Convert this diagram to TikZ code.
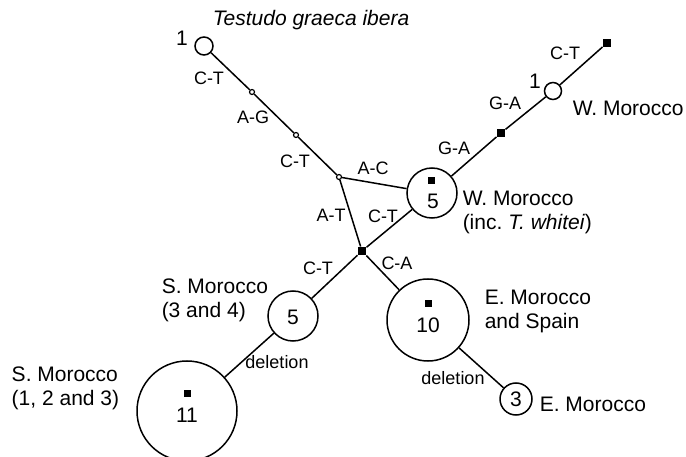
\documentclass[tikz,border=0pt]{standalone}
\usepackage{fontspec}
\setmainfont{Liberation Sans}
\begin{document}
\begin{tikzpicture}[x=1pt,y=-1pt,line width=1.5pt,
  hap/.style={circle,draw,line width=1.5pt,inner sep=0pt},
  tiny/.style={circle,draw,line width=1.2pt,inner sep=0pt,minimum size=5pt,fill=white},
  sq/.style={rectangle,fill=black,inner sep=0pt,minimum size=7.5pt},
  mut/.style={font=\fontsize{18}{20}\selectfont,inner sep=0pt},
  lab/.style={font=\fontsize{21}{24}\selectfont,inner sep=0pt,align=left,anchor=west},
  num/.style={font=\fontsize{21}{24}\selectfont,inner sep=0pt}]
\useasboundingbox (0,0) rectangle (686,457);
% haplotype circles
\node[hap,minimum size=18pt] (c1a) at (204,46) {};
\node[tiny] (s1) at (252,92) {};
\node[tiny] (s2) at (296,135) {};
\node[tiny] (j1) at (339,177) {};
\node[hap,minimum size=50pt] (c5w) at (432,193) {};
\node[sq] (j2) at (362,251) {};
\node[sq] (sq1) at (501,133) {};
\node[hap,minimum size=17pt] (c1b) at (553,91) {};
\node[sq] (sq2) at (607,43) {};
\node[hap,minimum size=50pt] (c5s) at (293,316) {};
\node[hap,minimum size=100pt] (c11) at (187,411) {};
\node[hap,minimum size=82pt] (c10) at (428,320) {};
\node[hap,minimum size=32pt] (c3) at (516,399) {};
% inner squares and numbers
\node[sq,minimum size=7pt] (q5w) at (431,181) {};
\node[num] (n5w) at (433,201) {5};
\node[num] (n5s) at (293,317) {5};
\node[sq,minimum size=7pt] (q10) at (428,304) {};
\node[num] (n10) at (428,325) {10};
\node[sq,minimum size=7pt] (q11) at (187,393) {};
\node[num] (n11) at (187,415) {11};
\node[num] (n3) at (516,399) {3};
\node[num] (n1a) at (182,38) {1};
\node[num] (n1b) at (535,81) {1};
% connectors
\draw (c1a) -- (s1) -- (s2) -- (j1);
\draw (j1) -- (c5w);
\draw (j1) -- (j2);
\draw (j2) -- (c5w);
\draw (c5w) -- (sq1) -- (c1b) -- (sq2);
\draw (j2) -- (c5s);
\draw (j2) -- (c10);
\draw (c5s) -- (c11);
\draw (c10) -- (c3);
% mutation labels
\node[mut] (m1) at (209,78) {C-T};
\node[mut] (m2) at (253,117) {A-G};
\node[mut] (m3) at (295,161) {C-T};
\node[mut] (m4) at (373,168) {A-C};
\node[mut] (m5) at (331,215) {A-T};
\node[mut] (m6) at (383,216) {C-T};
\node[mut] (m7) at (454,148) {G-A};
\node[mut] (m8) at (505,103) {G-A};
\node[mut] (m9) at (565,53) {C-T};
\node[mut] (m10) at (318,268) {C-T};
\node[mut] (m11) at (397,263) {C-A};
\node[mut] (m12) at (277,362) {deletion};
\node[mut] (m13) at (453,378) {deletion};
% group labels
\node[lab,font=\fontsize{21}{24}\selectfont\itshape] (t0) at (212,20) {Testudo graeca ibera};
\node[lab] (t1) at (572,108) {W. Morocco};
\node[lab] (t2) at (462,212) {W. Morocco\\(inc.~\textit{T. whitei})};
\node[lab] (t3) at (161,300) {S. Morocco\\(3 and 4)};
\node[lab] (t4) at (484,311) {E. Morocco\\and Spain};
\node[lab] (t5) at (11,388) {S. Morocco\\(1, 2 and 3)};
\node[lab] (t6) at (539,404) {E. Morocco};
\end{tikzpicture}
\end{document}
